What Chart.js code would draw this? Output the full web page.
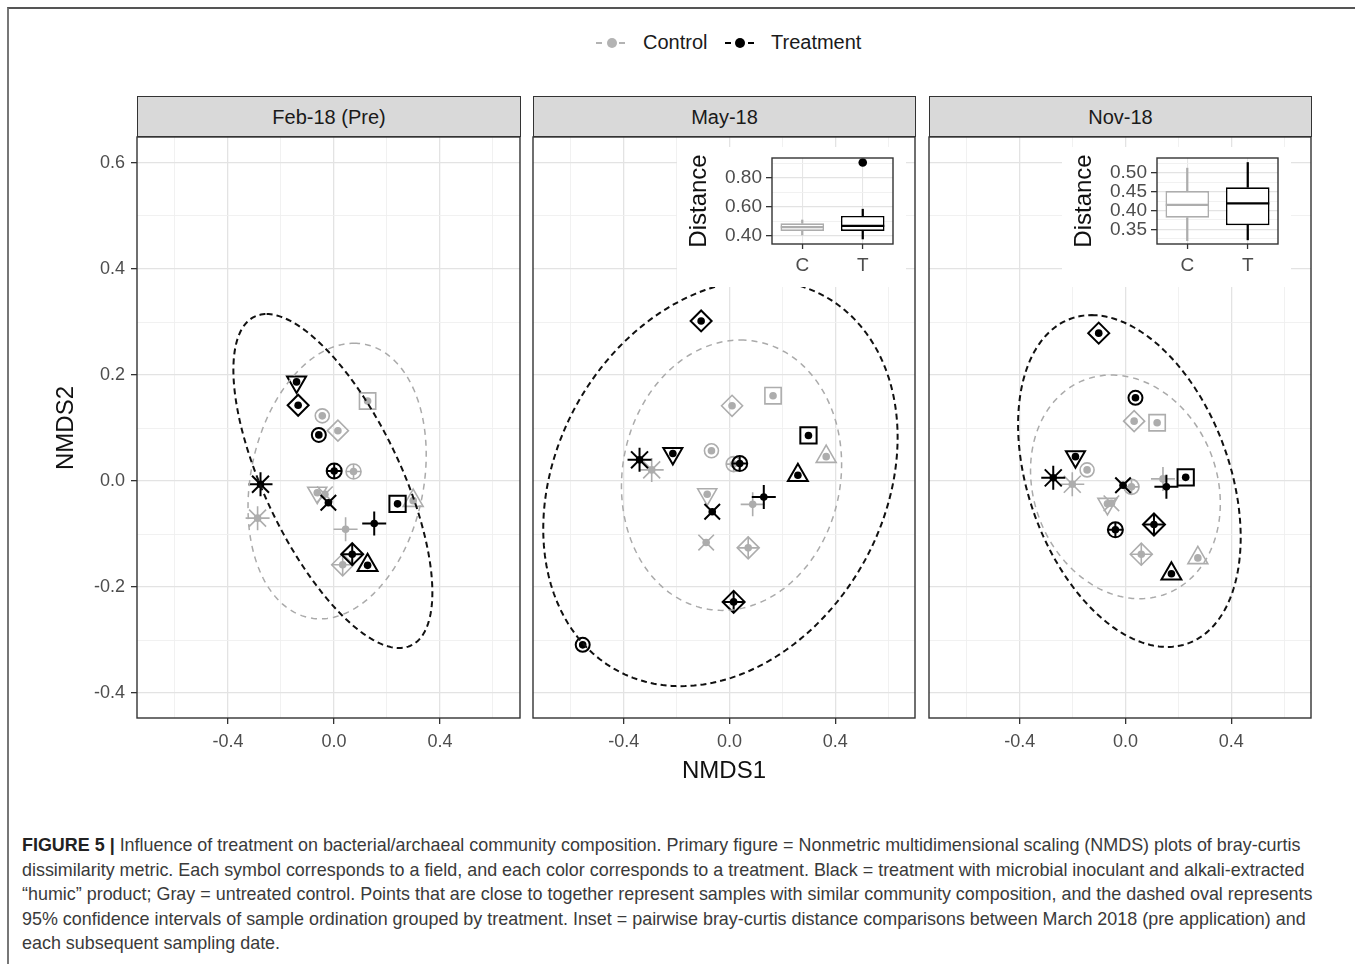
<!DOCTYPE html>
<html lang="en">
<head>
<meta charset="UTF-8">
<title>NMDS - bacterial/archaeal community composition</title>
<script src="https://cdn.jsdelivr.net/npm/chart.js"></script>
<style>
  body {
    margin: 0;
    width: 1355px;
    height: 964px;
    overflow: hidden;
    position: relative;
    background: #fff;
    font-family: 'Liberation Sans', Arial, sans-serif;
  }
  #frame {
    position: absolute;
    left: 7px;
    top: 7px;
    width: 1400px;
    height: 1000px;
    border-top: 2px solid #555;
    border-left: 2px solid #777;
  }
  .strip {
    position: absolute;
    top: 96px;
    height: 41px;
    box-sizing: border-box;
    background: #d9d9d9;
    border: 1.3px solid #333;
    font-size: 20px;
    color: #1a1a1a;
    text-align: center;
    line-height: 40px;
  }
  canvas { position: absolute; }
  canvas.inset { background: #fff; }
  .key-dash, .key-dot { position: absolute; }
  .key-dash { width: 6px; height: 2px; top: 42px; }
  .key-dot { width: 10px; height: 10px; border-radius: 50%; top: 38px; }
  .leg-text { position: absolute; top: 31px; font-size: 20px; color: #1a1a1a; }
  #ytitle {
    position: absolute;
    left: 65px;
    top: 428px;
    transform: translate(-50%, -50%) rotate(-90deg);
    font-size: 24px;
    color: #111;
  }
  #xtitle {
    position: absolute;
    left: 724px;
    top: 770px;
    transform: translate(-50%, -50%);
    font-size: 24px;
    color: #111;
  }
  #caption {
    position: absolute;
    left: 22px;
    top: 833px;
    font-size: 16px;
    line-height: 24.5px;
    color: #3a3a3a;
    white-space: nowrap;
  }
  #caption b { color: #222; }
</style>
</head>
<body>
<div id="frame"></div>

<span class="key-dash" style="left:596px;background:#b3b3b3"></span>
<span class="key-dot" style="left:607px;background:#b3b3b3"></span>
<span class="key-dash" style="left:619px;background:#b3b3b3"></span>
<span class="leg-text" style="left:643px">Control</span>
<span class="key-dash" style="left:725px;background:#000"></span>
<span class="key-dot" style="left:735px;background:#000"></span>
<span class="key-dash" style="left:748px;background:#000"></span>
<span class="leg-text" style="left:771px">Treatment</span>

<div class="strip" style="left:137px;width:384px">Feb-18 (Pre)</div>
<div class="strip" style="left:533px;width:383px">May-18</div>
<div class="strip" style="left:929px;width:383px">Nov-18</div>

<canvas id="p1" width="446" height="630" style="left:77px;top:132px"></canvas>
<canvas id="p2" width="390" height="630" style="left:528px;top:132px"></canvas>
<canvas id="p3" width="390" height="630" style="left:924px;top:132px"></canvas>
<canvas id="i2" class="inset" width="229" height="140" style="left:677px;top:147px"></canvas>
<canvas id="i3" class="inset" width="229" height="140" style="left:1062px;top:147px"></canvas>

<div id="ytitle">NMDS2</div>
<div id="xtitle">NMDS1</div>

<div id="caption">
  <div class="cap-line"><b>FIGURE 5 |</b> Influence of treatment on bacterial/archaeal community composition. Primary figure = Nonmetric multidimensional scaling (NMDS) plots of bray-curtis</div>
  <div class="cap-line">dissimilarity metric. Each symbol corresponds to a field, and each color corresponds to a treatment. Black = treatment with microbial inoculant and alkali-extracted</div>
  <div class="cap-line">“humic” product; Gray = untreated control. Points that are close to together represent samples with similar community composition, and the dashed oval represents</div>
  <div class="cap-line">95% confidence intervals of sample ordination grouped by treatment. Inset = pairwise bray-curtis distance comparisons between March 2018 (pre application) and</div>
  <div class="cap-line">each subsequent sampling date.</div>
</div>

<script>
  // one symbol per field, same order in every x/y array below
  const fields = ['triDown', 'diamond', 'circCirc', 'circPlus', 'asterisk', 'xcross', 'square', 'plus', 'diamondPlus', 'triUp'];

  // Feb-18 (Pre)
  const febCtrlX = [-0.063, 0.015, -0.044, 0.074, -0.288, -0.034, 0.127, 0.044, 0.033, 0.299];
  const febCtrlY = [-0.022, 0.095, 0.123, 0.018, -0.070, -0.025, 0.151, -0.091, -0.158, -0.037];
  const febTrtX = [-0.141, -0.135, -0.057, 0.001, -0.277, -0.021, 0.240, 0.152, 0.069, 0.127];
  const febTrtY = [0.187, 0.143, 0.087, 0.019, -0.006, -0.041, -0.043, -0.080, -0.138, -0.159];

  // May-18
  const mayCtrlX = [-0.084, 0.010, -0.068, 0.016, -0.294, -0.088, 0.165, 0.088, 0.071, 0.366];
  const mayCtrlY = [-0.025, 0.142, 0.057, 0.032, 0.021, -0.116, 0.161, -0.044, -0.126, 0.046];
  const mayTrtX = [-0.214, -0.107, -0.555, 0.039, -0.340, -0.065, 0.299, 0.130, 0.016, 0.259];
  const mayTrtY = [0.052, 0.302, -0.309, 0.033, 0.040, -0.058, 0.086, -0.030, -0.228, 0.011];

  // Nov-18
  const novCtrlX = [-0.068, 0.033, -0.145, 0.023, -0.201, -0.053, 0.120, 0.142, 0.060, 0.274];
  const novCtrlY = [-0.043, 0.113, 0.021, -0.011, -0.006, -0.042, 0.110, 0.004, -0.138, -0.145];
  const novTrtX = [-0.189, -0.101, 0.038, -0.038, -0.273, -0.009, 0.228, 0.155, 0.108, 0.174];
  const novTrtY = [0.046, 0.279, 0.157, -0.092, 0.006, -0.008, 0.007, -0.011, -0.082, -0.175];

  // 95% ellipses: centre x, centre y, semi-diameter u (x, y), conjugate semi-diameter v (x, y)
  const febCtrlEll = [0.012, 0.000, 0.064, 0.260, 0.330, 0];
  const febTrtEll = [-0.004, 0.000, -0.250, 0.315, 0.280, 0];
  const mayCtrlEll = [0.008, 0.011, 0.034, 0.255, 0.415, 0];
  const mayTrtEll = [-0.034, -0.004, 0.151, 0.383, 0.653, 0];
  const novCtrlEll = [0.000, -0.011, -0.053, 0.211, 0.355, 0];
  const novTrtEll = [0.015, 0.000, -0.143, 0.313, 0.396, 0];

  // main axes
  const xGrid = [-0.6, -0.4, -0.2, 0, 0.2, 0.4, 0.6];
  const xLabelled = [-0.4, 0, 0.4];
  const yGrid = [-0.4, -0.3, -0.2, -0.1, 0, 0.1, 0.2, 0.3, 0.4, 0.5, 0.6];
  const yLabelled = [-0.4, -0.2, 0, 0.2, 0.4, 0.6];

  // insets: distance boxplots
  const insetGroups = ['C', 'T'];
  const mayLo = [0.405, 0.377];
  const mayQ1 = [0.433, 0.433];
  const mayMed = [0.459, 0.468];
  const mayQ3 = [0.486, 0.537];
  const mayHi = [0.509, 0.584];
  const mayOutlierT = [0.909];
  const mayInsetGrid = [0.4, 0.5, 0.6, 0.7, 0.8, 0.9];
  const mayInsetLabelled = [0.4, 0.6, 0.8];

  const novLo = [0.320, 0.322];
  const novQ1 = [0.381, 0.361];
  const novMed = [0.415, 0.419];
  const novQ3 = [0.452, 0.462];
  const novHi = [0.513, 0.528];
  const novOutlierT = [];
  const novInsetGrid = [0.325, 0.35, 0.375, 0.4, 0.425, 0.45, 0.475, 0.5, 0.525];
  const novInsetLabelled = [0.35, 0.4, 0.45, 0.5];

  const FONT = 'Liberation Sans, Arial, sans-serif';
  const GRAY = '#adadad';
  const BLACK = '#000000';

  // symbol drawing: [pointStyle, radius, rotation] layers
  const symbolParts = {
    triDown: [['triangle', 11, 180]],
    diamond: [['rectRot', 10.5, 0]],
    circCirc: [['circle', 7, 0]],
    circPlus: [['circle', 7.5, 0], ['cross', 7.5, 0]],
    asterisk: [['star', 12, 0]],
    xcross: [['crossRot', 11, 0]],
    square: [['rect', 11.5, 0]],
    plus: [['cross', 12, 0]],
    diamondPlus: [['rectRot', 11, 0], ['cross', 11, 0]],
    triUp: [['triangle', 11.5, 0]]
  };

  function symbolLayers(xs, ys, color, lw) {
    const pts = xs.map((x, i) => ({ x: x, y: ys[i] }));
    const out = [];
    for (let k = 0; k < 2; k++) {
      const part = s => symbolParts[s][k];
      out.push({
        type: 'scatter',
        data: pts,
        pointStyle: fields.map(s => part(s) ? part(s)[0] : 'circle'),
        pointRadius: fields.map(s => part(s) ? part(s)[1] : 0),
        pointRotation: fields.map(s => part(s) ? part(s)[2] : 0),
        pointBorderColor: color,
        pointBackgroundColor: 'rgba(0,0,0,0)',
        pointBorderWidth: lw
      });
    }
    out.push({
      type: 'scatter',
      data: pts,
      pointStyle: 'circle',
      pointRadius: 3.8,
      pointBorderWidth: 0,
      pointBackgroundColor: color,
      pointBorderColor: color
    });
    return out;
  }

  const ellipsePlugin = {
    id: 'ellipses',
    afterDatasetsDraw(chart, args, opts) {
      const { ctx, chartArea: a, scales: { x, y } } = chart;
      ctx.save();
      ctx.beginPath();
      ctx.rect(a.left, a.top, a.right - a.left, a.bottom - a.top);
      ctx.clip();
      (opts.list || []).forEach(e => {
        const [cx, cy, ux, uy, vx, vy] = e.p;
        const px = x.getPixelForValue(cx), py = y.getPixelForValue(cy);
        const ax = x.getPixelForValue(cx + ux) - px, ay = y.getPixelForValue(cy + uy) - py;
        const bx = x.getPixelForValue(cx + vx) - px, by = y.getPixelForValue(cy + vy) - py;
        ctx.beginPath();
        for (let i = 0; i <= 240; i++) {
          const t = i / 240 * Math.PI * 2;
          const X = px + ax * Math.cos(t) + bx * Math.sin(t);
          const Y = py + ay * Math.cos(t) + by * Math.sin(t);
          if (i) ctx.lineTo(X, Y); else ctx.moveTo(X, Y);
        }
        ctx.setLineDash(e.dash);
        ctx.lineWidth = e.width;
        ctx.strokeStyle = e.color;
        ctx.stroke();
      });
      ctx.restore();
    }
  };

  const borderPlugin = {
    id: 'panelBorder',
    afterDraw(chart) {
      const { ctx, chartArea: a } = chart;
      ctx.save();
      ctx.strokeStyle = '#333';
      ctx.lineWidth = 1.4;
      ctx.strokeRect(a.left, a.top, a.right - a.left, a.bottom - a.top);
      ctx.restore();
    }
  };

  function gridScale(values, labelled, opts) {
    const isMajor = c => c.tick && labelled.includes(c.tick.value);
    return Object.assign({
      type: 'linear',
      afterBuildTicks: s => { s.ticks = values.map(v => ({ value: v })); },
      border: { display: false },
      grid: {
        color: c => isMajor(c) ? '#e3e3e3' : '#efefef',
        lineWidth: c => isMajor(c) ? 1.3 : 0.9,
        tickColor: c => isMajor(c) ? '#333' : 'rgba(0,0,0,0)',
        tickLength: 6,
        tickWidth: 1.3
      }
    }, opts);
  }

  function makePanel(id, ctrlX, ctrlY, trtX, trtY, ctrlEll, trtEll, first) {
    const datasets = symbolLayers(trtX, trtY, BLACK, 2).concat(symbolLayers(ctrlX, ctrlY, GRAY, 1.6));
    new Chart(document.getElementById(id), {
      type: 'scatter',
      data: { datasets: datasets },
      options: {
        responsive: false,
        animation: false,
        events: [],
        layout: { autoPadding: false, padding: { top: 5, right: 3, left: first ? 0 : 5, bottom: 0 } },
        plugins: {
          legend: { display: false },
          tooltip: { enabled: false },
          ellipses: {
            list: [
              { p: ctrlEll, color: '#aaaaaa', width: 1.5, dash: [6, 5] },
              { p: trtEll, color: '#111', width: 2, dash: [6, 4] }
            ]
          }
        },
        scales: {
          x: gridScale(xGrid, xLabelled, {
            min: -0.743,
            max: 0.702,
            afterFit: s => { s.height = 44; s.paddingLeft = 0; s.paddingRight = 0; },
            ticks: {
              autoSkip: false, maxRotation: 0, padding: 7, color: '#4d4d4d',
              font: { size: 18, family: FONT },
              callback: v => xLabelled.includes(v) ? v.toFixed(1) : ''
            }
          }),
          y: (() => {
            const s = gridScale(yGrid, yLabelled, {
              min: -0.447,
              max: 0.649,
              afterFit: sc => { sc.width = first ? 60 : 0; sc.paddingTop = 0; sc.paddingBottom = 0; },
              ticks: {
                display: first, autoSkip: false, padding: 6, color: '#4d4d4d',
                font: { size: 18, family: FONT },
                callback: v => yLabelled.includes(v) ? v.toFixed(1) : ''
              }
            });
            if (!first) s.grid.drawTicks = false;
            return s;
          })()
        }
      },
      plugins: [ellipsePlugin, borderPlugin]
    });
  }

  function makeInset(id, lo, q1, med, q3, hi, outT, grid, labelled, min, max) {
    const colors = [GRAY, BLACK];
    new Chart(document.getElementById(id), {
      type: 'bar',
      data: {
        labels: insetGroups,
        datasets: [
          { type: 'line', order: 0, showLine: false, data: insetGroups.map((g, i) => ({ x: g, y: med[i] })),
            pointStyle: 'line', pointRadius: 21.5, pointBorderWidth: 2.2, pointBorderColor: colors },
          { type: 'line', order: 0, showLine: false, data: outT.map(v => ({ x: 'T', y: v })),
            pointStyle: 'circle', pointRadius: 4.3, pointBorderWidth: 0, pointBackgroundColor: BLACK },
          { type: 'bar', order: 1, grouped: false, data: insetGroups.map((g, i) => [q1[i], q3[i]]),
            backgroundColor: '#ffffff', borderColor: colors, borderWidth: 1.6, borderSkipped: false,
            barPercentage: 0.72, categoryPercentage: 1 },
          { type: 'bar', order: 2, grouped: false, data: insetGroups.map((g, i) => [lo[i], q1[i]]),
            backgroundColor: colors, borderWidth: 0, barThickness: 1.6 },
          { type: 'bar', order: 2, grouped: false, data: insetGroups.map((g, i) => [q3[i], hi[i]]),
            backgroundColor: colors, borderWidth: 0, barThickness: 1.6 }
        ]
      },
      options: {
        responsive: false,
        animation: false,
        events: [],
        layout: { autoPadding: false, padding: { top: 11, right: 13, left: 0, bottom: 0 } },
        plugins: { legend: { display: false }, tooltip: { enabled: false } },
        scales: {
          x: {
            type: 'category',
            offset: true,
            afterFit: s => { s.height = 43; s.paddingLeft = 0; s.paddingRight = 0; },
            border: { display: false },
            grid: { offset: false, color: '#e6e6e6', lineWidth: 1.1, tickColor: '#333', tickLength: 5, tickWidth: 1.3 },
            ticks: { padding: 5, color: '#4d4d4d', font: { size: 19, family: FONT } }
          },
          y: gridScale(grid, labelled, {
            min: min,
            max: max,
            afterFit: s => { s.width = 95; s.paddingTop = 0; s.paddingBottom = 0; },
            title: { display: true, text: 'Distance', color: '#111', font: { size: 24, family: FONT }, padding: { top: 8, bottom: 2 } },
            ticks: {
              autoSkip: false, padding: 4, color: '#4d4d4d',
              font: { size: 19, family: FONT },
              callback: v => labelled.includes(v) ? v.toFixed(2) : ''
            }
          })
        }
      },
      plugins: [borderPlugin]
    });
  }

  makePanel('p1', febCtrlX, febCtrlY, febTrtX, febTrtY, febCtrlEll, febTrtEll, true);
  makePanel('p2', mayCtrlX, mayCtrlY, mayTrtX, mayTrtY, mayCtrlEll, mayTrtEll, false);
  makePanel('p3', novCtrlX, novCtrlY, novTrtX, novTrtY, novCtrlEll, novTrtEll, false);
  makeInset('i2', mayLo, mayQ1, mayMed, mayQ3, mayHi, mayOutlierT, mayInsetGrid, mayInsetLabelled, 0.342, 0.94);
  makeInset('i3', novLo, novQ1, novMed, novQ3, novHi, novOutlierT, novInsetGrid, novInsetLabelled, 0.311, 0.540);

  // fit the caption so its first line spans the same width as in the figure
  const firstLine = document.querySelector('.cap-line');
  const w = firstLine.getBoundingClientRect().width;
  document.getElementById('caption').style.fontSize = (16 * 1291 / w).toFixed(2) + 'px';
</script>
</body>
</html>
